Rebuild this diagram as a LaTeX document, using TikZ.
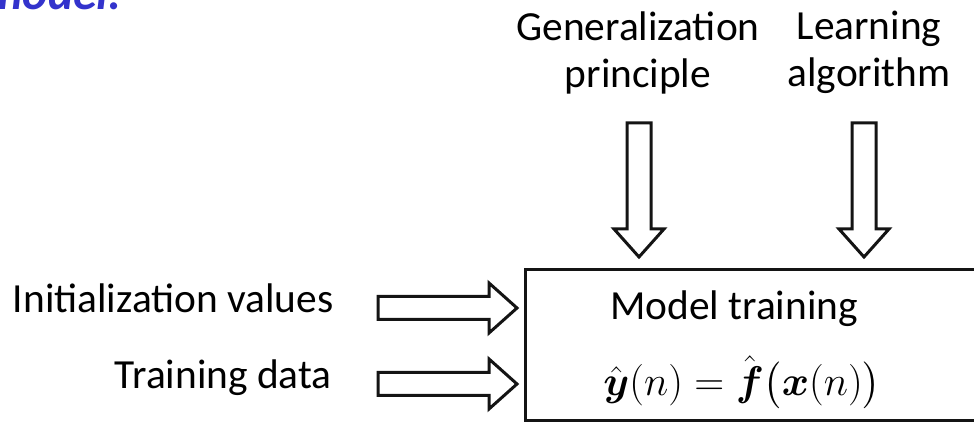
\documentclass[tikz,border=0pt]{standalone}
\usepackage{amsmath,amssymb}
\usepackage[no-math]{fontspec}
\setmainfont{Carlito}
\usepackage{xcolor}
\usepackage{tikz}
\usetikzlibrary{calc,positioning}
\definecolor{slideblue}{HTML}{3333CC}
\definecolor{inkblack}{HTML}{141414}
\tikzset{
  txt/.style={inner sep=0pt,font=\fontsize{20.7}{23.5}\selectfont},
  slidetitle/.style={inner sep=0pt,text=slideblue,font=\fontsize{24}{28}\selectfont\bfseries\itshape},
  trainbox/.style={rectangle,draw=inkblack,line width=1.7pt,minimum width=240pt,minimum height=75.5pt,anchor=north west,inner sep=0pt},
  fatright/.style={line width=1.5pt,draw=inkblack,line join=miter,
    to path={($(\tikztostart)+(0,-11.5)$) -- ($(\tikztotarget)+(-28,-11.5)$) -- ($(\tikztotarget)+(-28,-25)$) -- (\tikztotarget)
      -- ($(\tikztotarget)+(-28,25)$) -- ($(\tikztotarget)+(-28,11.5)$) -- ($(\tikztostart)+(0,11.5)$) -- cycle}},
  fatdown/.style={line width=1.5pt,draw=inkblack,line join=miter,
    to path={($(\tikztostart)+(-12,0)$) -- ($(\tikztotarget)+(-12,-28)$) -- ($(\tikztotarget)+(-25,-28)$) -- (\tikztotarget)
      -- ($(\tikztotarget)+(25,-28)$) -- ($(\tikztotarget)+(12,-28)$) -- ($(\tikztostart)+(12,0)$) -- cycle}}
}

\begin{document}
\begin{tikzpicture}[x=0.5pt,y=-0.5pt]
\useasboundingbox (0,0) rectangle (974,426);
% slide heading, cut by the page
\node[slidetitle,anchor=base east] (ttl) at (122,10) {model.};
\node[trainbox] (train) at (524,268) {};
\node[txt,anchor=base] (mtxt) at (734,320) {Model training};
\node[inner sep=0pt,font=\fontsize{19.5}{24}\selectfont] (eq) at (742,383) {$\hat{\boldsymbol{y}}(n)=\hat{\boldsymbol{f}}\big(\boldsymbol{x}(n)\big)$};
\node[txt,anchor=base east] (init) at (334,313) {Initialization values};
\node[txt,anchor=base east] (tdata) at (332,389) {Training data};
\node[txt,align=center,anchor=north] (gen) at (638,11) {Generalization\\principle};
\node[txt,align=center,anchor=north] (alg) at (869,11) {Learning\\algorithm};
% inputs from the left
\coordinate (init0) at (378,308);
\coordinate (init1) at ($(train.west |- init0)+(-7,0)$);
\coordinate (tdata0) at (378,384);
\coordinate (tdata1) at ($(train.west |- tdata0)+(-7,0)$);
\draw[fatright] (init0) to (init1);
\draw[fatright] (tdata0) to (tdata1);
% inputs from above
\coordinate (gen0) at (639,123);
\coordinate (gen1) at ($(gen0 |- train.north)+(0,-11)$);
\coordinate (alg0) at (864,123);
\coordinate (alg1) at ($(alg0 |- train.north)+(0,-11)$);
\draw[fatdown] (gen0) to (gen1);
\draw[fatdown] (alg0) to (alg1);
\end{tikzpicture}
\end{document}
